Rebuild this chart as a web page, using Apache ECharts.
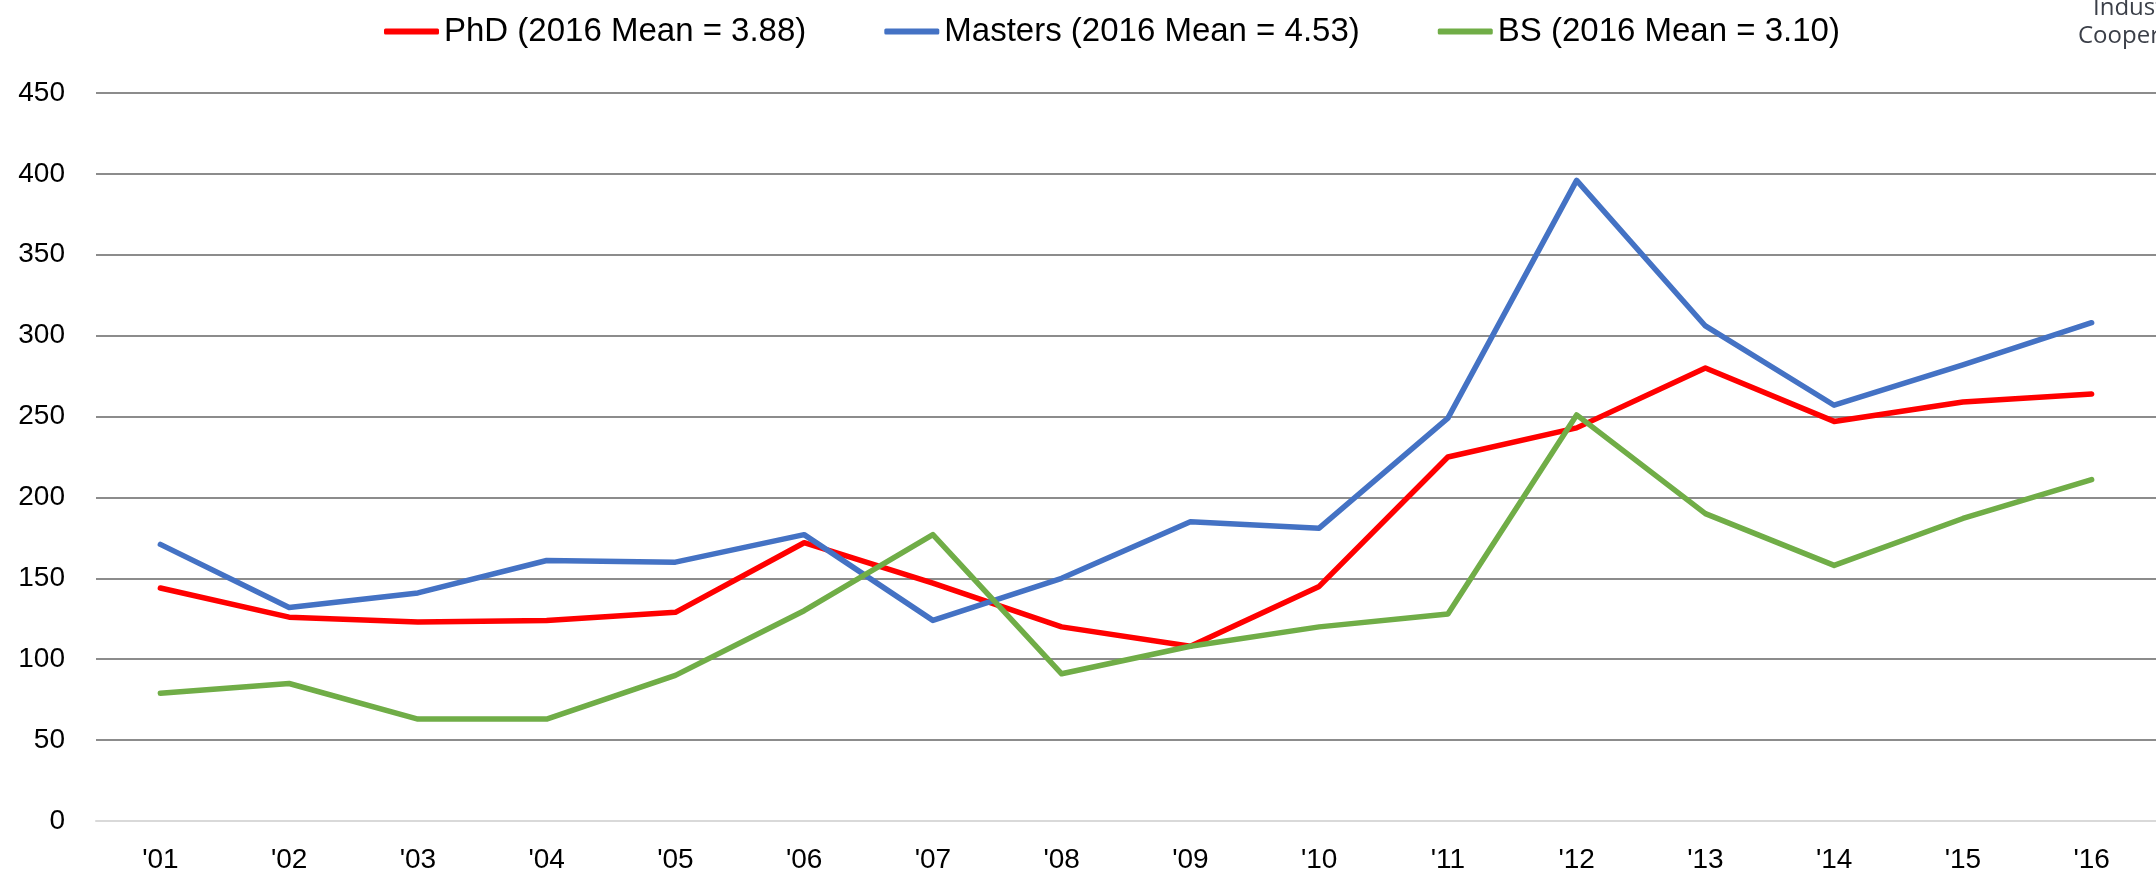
<!DOCTYPE html>
<html>
<head>
<meta charset="utf-8">
<script src="https://cdn.jsdelivr.net/npm/echarts@6/dist/echarts.min.js"></script>
<style>
  html, body { margin: 0; padding: 0; background: #fff; }
  #lineChart { width: 2156px; height: 874px; }
</style>
</head>
<body>
<div id="lineChart"></div>
<script>
// 横坐标 年份
const years = ["'01", "'02", "'03", "'04", "'05", "'06", "'07", "'08", "'09", "'10", "'11", "'12", "'13", "'14", "'15", "'16"];
// 三条折线数值
const phdValues = [144, 126, 123, 124, 129, 172, 147, 120, 108, 145, 225, 243, 280, 247, 259, 264];
const mastersValues = [171, 132, 141, 161, 160, 177, 124, 150, 185, 181, 249, 396, 306, 257, 282, 308];
const bsValues = [79, 85, 63, 63, 90, 130, 177, 91, 108, 120, 128, 251, 190, 158, 187, 211];
// 图例名称
const seriesNames = ['PhD (2016 Mean = 3.88)', 'Masters (2016 Mean = 4.53)', 'BS (2016 Mean = 3.10)'];
const seriesColors = ['#ff0000', '#4472c4', '#70ad47'];

const fontFamily = '"Liberation Sans", Arial, sans-serif';

function makeLine(name, color, data) {
    return {
        name: name,
        type: 'line',
        symbol: 'none',
        color: color,
        lineStyle: { color: color, width: 5.5, cap: 'round', join: 'round' },
        data: data
    };
}

const lineChart = echarts.init(document.getElementById('lineChart'));
lineChart.setOption({
    animation: false,
    legend: {
        left: 379,
        top: 10,
        itemWidth: 55,
        itemHeight: 6,
        itemGap: 78,
        icon: 'roundRect',
        textStyle: { fontFamily: fontFamily, fontSize: 33, color: '#000' },
        data: seriesNames
    },
    grid: { // 四边距离
        left: 96,
        top: 93,
        width: 2083,
        height: 728
    },
    xAxis: {
        type: 'category',
        boundaryGap: true,
        data: years,
        axisLine: { lineStyle: { color: '#d9d9d9', width: 2 } },
        axisTick: { show: false },
        axisLabel: { fontFamily: fontFamily, fontSize: 28, color: '#000', margin: 25 }
    },
    yAxis: {
        type: 'value',
        min: 0,
        max: 450,
        interval: 50,
        axisLine: { show: false },
        axisTick: { show: false },
        axisLabel: { fontFamily: fontFamily, fontSize: 28, color: '#000', margin: 31 },
        splitLine: {
            lineStyle: {
                width: 2,
                color: ['#d9d9d9', '#8c8c8c', '#8c8c8c', '#8c8c8c', '#8c8c8c', '#8c8c8c', '#8c8c8c', '#8c8c8c', '#8c8c8c', '#8c8c8c']
            }
        }
    },
    graphic: [
        { type: 'text', left: 2093, top: -4, style: { text: 'Industry', fontFamily: '"Open Sans", sans-serif', fontSize: 24, fill: '#3b3f48' } },
        { type: 'text', left: 2078, top: 24, style: { text: 'Cooperative', fontFamily: '"Open Sans", sans-serif', fontSize: 24, fill: '#3b3f48' } }
    ],
    series: [
        makeLine(seriesNames[0], seriesColors[0], phdValues),
        makeLine(seriesNames[1], seriesColors[1], mastersValues),
        makeLine(seriesNames[2], seriesColors[2], bsValues)
    ]
});
window.onresize = lineChart.resize;
</script>
</body>
</html>
